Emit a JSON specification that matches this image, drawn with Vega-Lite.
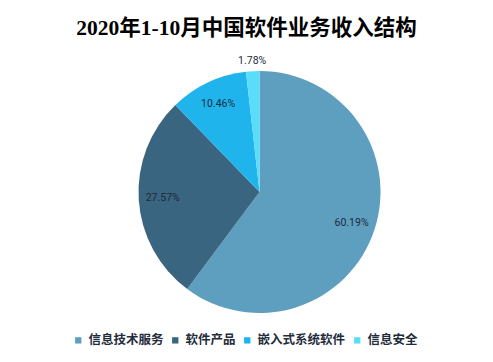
{
  "$schema": "https://vega.github.io/schema/vega-lite/v6.json",
  "autosize": {"type": "none"},
  "padding": {"left": 26, "top": 22, "right": 0, "bottom": 0},
  "width": 467,
  "height": 340,
  "background": "#ffffff",
  "title": {
    "text": "2020年1-10月中国软件业务收入结构",
    "font": "Liberation Serif, Noto Sans CJK SC",
    "fontSize": 21.5,
    "fontWeight": "bold",
    "color": "#000000",
    "anchor": "middle",
    "frame": "group",
    "baseline": "middle",
    "offset": -28,
    "dx": -13
  },
  "data": {
    "values": [
      {"类别": "信息技术服务", "占比": 0.6019},
      {"类别": "软件产品", "占比": 0.2757},
      {"类别": "嵌入式系统软件", "占比": 0.1046},
      {"类别": "信息安全", "占比": 0.0178}
    ]
  },
  "encoding": {
    "theta": {"field": "占比", "type": "quantitative", "stack": true},
    "order": {"field": "占比", "type": "quantitative", "sort": "descending"}
  },
  "layer": [
    {
      "mark": {"type": "arc", "outerRadius": 121},
      "encoding": {
        "color": {
          "field": "类别",
          "type": "nominal",
          "scale": {
            "domain": ["信息技术服务", "软件产品", "嵌入式系统软件", "信息安全"],
            "range": ["#5e9fc0", "#3a6580", "#1fb4ec", "#5adcfb"]
          },
          "legend": {
            "title": null,
            "orient": "none",
            "direction": "horizontal",
            "legendX": 46,
            "legendY": 312,
            "symbolType": "square",
            "symbolSize": 40,
            "symbolStrokeWidth": 0,
            "labelFont": "Noto Sans CJK SC",
            "labelFontSize": 12.5,
            "labelFontWeight": "bold",
            "labelColor": "#1f2d3d",
            "labelOffset": 4,
            "columnPadding": 5
          }
        }
      }
    },
    {
      "mark": {"type": "text", "radius": 97, "font": "Roboto", "fontSize": 10.5, "color": "#1b2b3b"},
      "encoding": {
        "text": {"field": "占比", "type": "quantitative", "format": ".2%", "condition": {"test": "datum['占比'] < 0.05", "value": ""}}
      }
    },
    {
      "mark": {"type": "text", "radius": 131, "font": "Roboto", "fontSize": 10.5, "color": "#1b2b3b"},
      "encoding": {
        "text": {"field": "占比", "type": "quantitative", "format": ".2%", "condition": {"test": "datum['占比'] >= 0.05", "value": ""}}
      }
    }
  ],
  "config": {"view": {"stroke": null}}
}
